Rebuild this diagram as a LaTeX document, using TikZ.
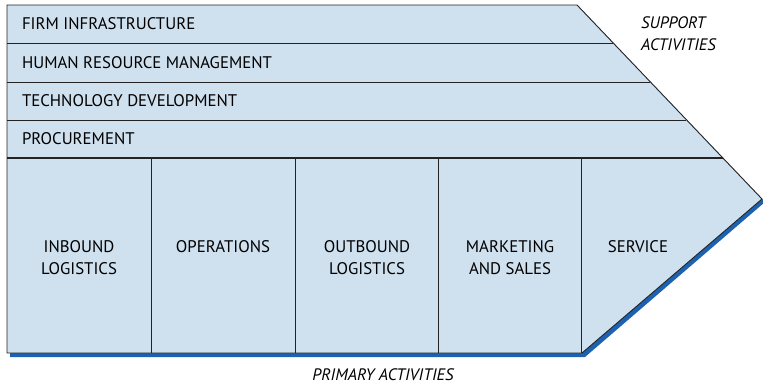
\documentclass[tikz,border=0pt]{standalone}
\usepackage{fontspec}
\setmainfont{PT Sans}
\definecolor{chainfill}{RGB}{207,224,238}
\definecolor{chainshadow}{RGB}{28,98,176}
\definecolor{chainline}{RGB}{35,35,35}
\tikzset{
  support/.style={anchor=west,font=\fontsize{16.8}{19}\selectfont},
  primary/.style={anchor=north,align=center,font=\fontsize{16.8}{22}\selectfont},
  caption/.style={inner sep=1pt,font=\fontsize{16.6}{22}\selectfont\itshape}
}
\begin{document}
\begin{tikzpicture}[x=1pt,y=-1pt]
\useasboundingbox (0,0) rectangle (763,386);

% chevron with its shadow
\fill[chainshadow] (10,8) -- (580,8) -- (765,202) -- (585,357) -- (10,357) -- cycle;
\draw[chainline,fill=chainfill,line width=0.9pt] (7,5) coordinate (tl) -- (577,5) coordinate (tr)
  -- (762,199) coordinate (tip) -- (582,353) coordinate (br) -- (7,353) coordinate (bl) -- cycle;

% support rows
\foreach \y/\x in {43/613, 82/650, 120/686}
  \draw[chainline,line width=0.9pt] (7,\y) -- (\x,\y);
\draw[chainline,line width=1.8pt] (7,158) -- (723,158);

% primary columns
\foreach \x in {151,295,438,581}
  \draw[chainline,line width=0.9pt] (\x,158) -- (\x,353);

\node[support] (firm) at (18.5,24) {FIRM INFRASTRUCTURE};
\node[support] (hrm) at (18.5,62.5) {HUMAN RESOURCE MANAGEMENT};
\node[support] (tech) at (18.5,101) {TECHNOLOGY DEVELOPMENT};
\node[support] (proc) at (18.5,139) {PROCUREMENT};

\node[primary] (inbound) at (79,237) {INBOUND\\LOGISTICS};
\node[primary] (ops) at (223,237) {OPERATIONS};
\node[primary] (outbound) at (367,237) {OUTBOUND\\LOGISTICS};
\node[primary] (market) at (510,237) {MARKETING\\AND SALES};
\node[primary] (service) at (638,237) {SERVICE};

\node[caption,anchor=north west,align=left] (support) at (640,15) {SUPPORT\\ACTIVITIES};
\node[caption,inner sep=0pt,anchor=base] (primact) at (383,380.5) {PRIMARY ACTIVITIES};

\end{tikzpicture}
\end{document}
